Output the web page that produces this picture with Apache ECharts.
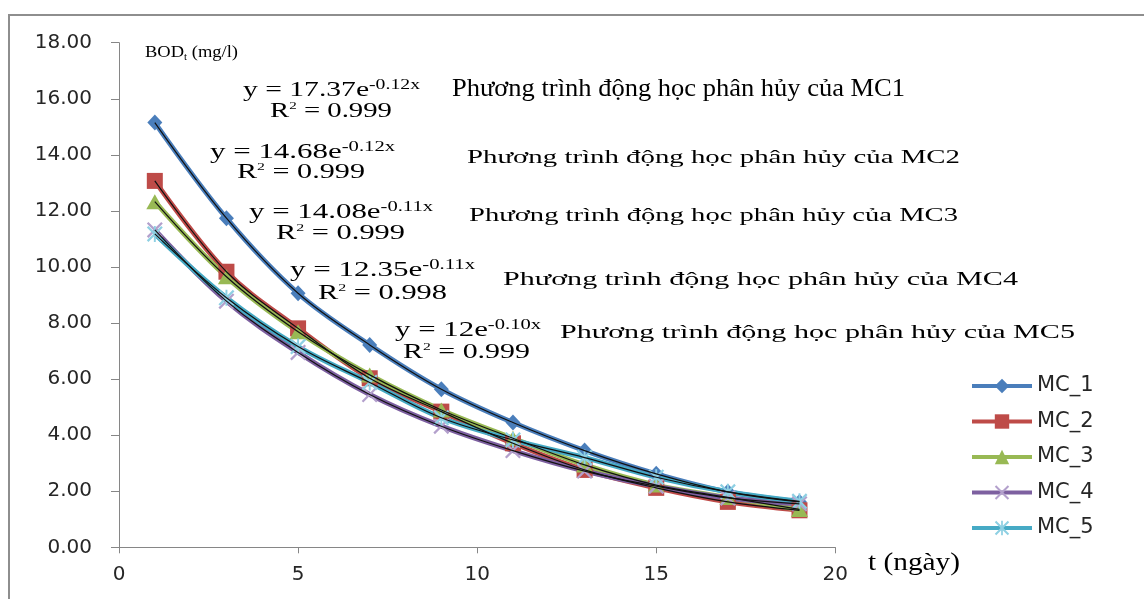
<!DOCTYPE html>
<html><head><meta charset="utf-8">
<script src="https://cdn.jsdelivr.net/npm/echarts@6/dist/echarts.min.js"></script>
<style>html,body{margin:0;padding:0;background:#fff}#c{width:1144px;height:599px}</style>
</head><body><div id="c"></div>
<script>
// ---- data ----
const days = [1, 3, 5, 7, 9, 11, 13, 15, 17, 19];
const mc1 = [15.15, 11.74, 9.06, 7.22, 5.64, 4.45, 3.45, 2.62, 1.98, 1.62];
const mc2 = [13.07, 9.83, 7.81, 6.03, 4.84, 3.71, 2.76, 2.12, 1.62, 1.32];
const mc3 = [12.33, 9.65, 7.69, 6.15, 4.90, 3.89, 2.94, 2.22, 1.78, 1.35];
const mc4 = [11.32, 8.78, 6.95, 5.45, 4.32, 3.45, 2.72, 2.18, 1.76, 1.55];
const mc5 = [11.18, 8.90, 7.16, 5.88, 4.62, 3.83, 3.20, 2.50, 1.98, 1.64];
const seriesNames = ['MC_1', 'MC_2', 'MC_3', 'MC_4', 'MC_5'];
const eqBase = ['y = 17.37e', 'y = 14.68e', 'y = 14.08e', 'y = 12.35e', 'y = 12e'];
const eqExp = ['-0.12x', '-0.12x', '-0.11x', '-0.11x', '-0.10x'];
const r2Values = ['0.999', '0.999', '0.999', '0.998', '0.999'];
const phrases = [
  'Phương trình động học phân hủy của MC1',
  'Phương trình động học phân hủy của MC2',
  'Phương trình động học phân hủy của MC3',
  'Phương trình động học phân hủy của MC4',
  'Phương trình động học phân hủy của MC5'
];
const yTitle = ['BOD', 't', ' (mg/l)'];
const xTitle = 't (ngày)';

// ---- layout / style (not data) ----
const SERIF = "'Liberation Serif', 'Times New Roman', serif";
const SANS = "'DejaVu Sans', Verdana, sans-serif";
const eqLayout = [
  {x: 243, y: 90, w: 177, rx: 270, ry: 111, rw: 122},
  {x: 210, y: 152, w: 185, rx: 237, ry: 172, rw: 128},
  {x: 249, y: 212, w: 184, rx: 276, ry: 233, rw: 129},
  {x: 290, y: 270, w: 185, rx: 318, ry: 293, rw: 129},
  {x: 395, y: 330, w: 146, rx: 403, ry: 352, rw: 127}
];
const phraseLayout = [
  {x: 452, y: 89, w: 453, size: 26},
  {x: 467, y: 158, w: 493, size: 18},
  {x: 469, y: 216, w: 489, size: 18},
  {x: 503, y: 280, w: 515, size: 19},
  {x: 560, y: 333, w: 515, size: 19}
];
const X_PATH = 'path://M0,1L1,0L5,4L9,0L10,1L6,5L10,9L9,10L5,6L1,10L0,9L4,5Z';
const STAR_PATH = 'path://M0,1L1,0L5,4L9,0L10,1L6,5L10,9L9,10L5,6L1,10L0,9L4,5Z M4.4,0L5.6,0L5.6,10L4.4,10Z';
const looks = [
  {line: '#4A7EBB', mark: '#4A7EBB', symbol: 'diamond', size: [15, 16]},
  {line: '#BE4B48', mark: '#BE4B48', symbol: 'rect', size: 16},
  {line: '#98B954', mark: '#98B954', symbol: 'triangle', size: [17, 15]},
  {line: '#7D60A0', mark: '#B3A0CC', symbol: X_PATH, size: 16},
  {line: '#46AAC5', mark: '#8ED0E3', symbol: STAR_PATH, size: 16}
];
const values = [mc1, mc2, mc3, mc4, mc5];

const ctx = document.createElement('canvas').getContext('2d');
function tw(str, size, fam) { ctx.font = size + 'px ' + fam; return ctx.measureText(str).width; }
function txt(x, y, text, size, fam) {
  return {type: 'text', x: x, y: y, style: {text: text, font: size + 'px ' + fam, fill: '#000',
    textAlign: 'left', textVerticalAlign: 'middle', align: 'left', verticalAlign: 'middle'}};
}
function fitGroup(x, y, w, parts) {
  let cx = 0; const ch = [];
  parts.forEach(p => { ch.push(txt(cx, p[2], p[0], p[1], SERIF)); cx += tw(p[0], p[1], SERIF); });
  return {type: 'group', x: x, y: y, scaleX: w / cx, children: ch};
}

const graphics = [
  {type: 'rect', shape: {x: 9, y: 15, width: 1300, height: 800}, style: {fill: 'none', stroke: '#8e8e8e', lineWidth: 2}, silent: true}
];
eqLayout.forEach((L, i) => {
  graphics.push(fitGroup(L.x, L.y, L.w, [[eqBase[i], 21, 0], [eqExp[i], 14, -5]]));
  graphics.push(fitGroup(L.rx, L.ry, L.rw, [['R', 21, 0], ['2', 11, -5], [' = ' + r2Values[i], 21, 0]]));
});
phraseLayout.forEach((L, i) => {
  graphics.push(fitGroup(L.x, L.y, L.w, [[phrases[i], L.size, 0]]));
});
graphics.push(fitGroup(145, 53, 93, [[yTitle[0], 17, 0], [yTitle[1], 10, 4], [yTitle[2], 17, 0]]));
graphics.push(fitGroup(868, 563, 92, [[xTitle, 26, 0]]));

const series = [];
values.forEach((arr, k) => {
  series.push({
    type: 'line', name: seriesNames[k], data: days.map((d, i) => [d, arr[i]]),
    smooth: 0.35, symbol: looks[k].symbol, symbolSize: looks[k].size, showAllSymbol: true,
    lineStyle: {color: looks[k].line, width: 5}, itemStyle: {color: looks[k].mark},
    z: 2, animation: false
  });
});
values.forEach((arr, k) => {
  series.push({
    type: 'line', name: 'trend_' + seriesNames[k], data: days.map((d, i) => [d, arr[i]]),
    smooth: 0.35, symbol: 'none', lineStyle: {color: '#111', width: 1.2}, z: 4, silent: true, animation: false
  });
});

const axisColor = '#868686';
const chart = echarts.init(document.getElementById('c'));
chart.setOption({
  animation: false,
  backgroundColor: '#fff',
  grid: {left: 119, right: 308.7, top: 42.7, bottom: 51.7, containLabel: false},
  xAxis: {
    type: 'value', min: 0, max: 20, interval: 5,
    axisLine: {show: true, lineStyle: {color: axisColor, width: 1}},
    axisTick: {show: true, length: 6, lineStyle: {color: axisColor}},
    axisLabel: {fontFamily: SANS, fontSize: 20, color: '#262626', margin: 17},
    splitLine: {show: false}
  },
  yAxis: {
    type: 'value', min: 0, max: 18, interval: 2,
    axisLine: {show: true, lineStyle: {color: axisColor, width: 1}},
    axisTick: {show: true, length: 8, lineStyle: {color: axisColor}},
    axisLabel: {fontFamily: SANS, fontSize: 20, color: '#262626', margin: 27, formatter: v => v.toFixed(2)},
    splitLine: {show: false}
  },
  legend: {
    data: seriesNames, orient: 'vertical', left: 965, top: 370,
    itemWidth: 60, itemHeight: 18, itemGap: 13.5,
    lineStyle: {width: 4},
    textStyle: {fontFamily: SANS, fontSize: 21, color: '#262626', lineHeight: 22}
  },
  graphic: graphics,
  series: series
});
</script></body></html>
